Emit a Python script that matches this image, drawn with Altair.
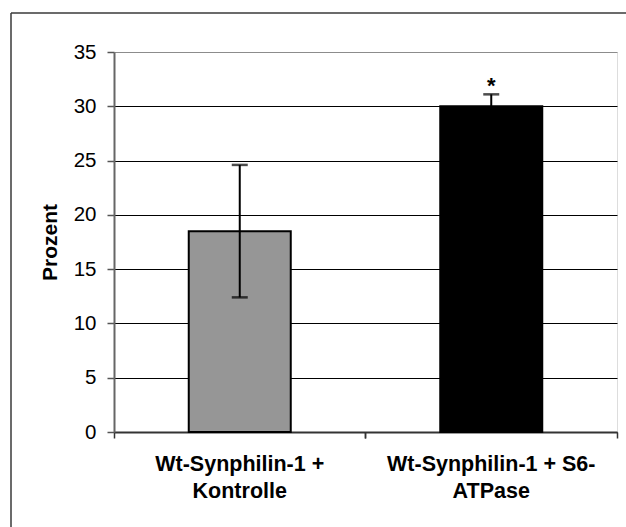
import altair as alt
import pandas as pd

categories = ["Wt-Synphilin-1 +\nKontrolle", "Wt-Synphilin-1 + S6-\nATPase"]
values = [18.5, 30.0]
errors = [6.1, 1.1]
marks = ["", "*"]
colors = ["#969696", "#000000"]

df = pd.DataFrame({
    "cat": categories,
    "val": values,
    "lo": [v - e for v, e in zip(values, errors)],
    "hi": [v + e for v, e in zip(values, errors)],
    "sig": marks,
    "color": colors,
})

FONT = "Liberation Sans"

x_main = alt.X(
    "cat:N",
    sort=categories,
    scale=alt.Scale(paddingInner=0, paddingOuter=0),
    axis=alt.Axis(
        title=None,
        labelAngle=0,
        labelExpr="split(datum.label, '\\n')",
        labelFont=FONT,
        labelFontSize=21.5,
        labelFontWeight="bold",
        labelColor="black",
        labelLineHeight=27,
        labelPadding=15,
        labelLimit=400,
        bandPosition=0,
        tickSize=6,
        tickColor="#333333",
        tickWidth=1.5,
        domainColor="#333333",
        domainWidth=2,
        grid=False,
    ),
)

x_plain = alt.X("cat:N", sort=categories, axis=None)

y_enc = alt.Y(
    "val:Q",
    scale=alt.Scale(domain=[0, 35], nice=False),
    axis=alt.Axis(
        title="Prozent",
        titleFont=FONT,
        titleFontSize=21,
        titleFontWeight="bold",
        titleColor="black",
        titleX=-64,
        titleY=190,
        titleAlign="center",
        titleBaseline="middle",
        titleAngle=270,
        values=[0, 5, 10, 15, 20, 25, 30, 35],
        labelFont=FONT,
        labelFontSize=20.5,
        labelColor="black",
        labelPadding=11,
        tickSize=7,
        tickColor="#555555",
        tickWidth=1.5,
        domainColor="#666666",
        domainWidth=2,
        grid=True,
        gridColor=alt.condition("datum.value == 35", alt.value("#8c8c8c"), alt.value("#000000")),
        gridWidth=1,
    ),
)

base = alt.Chart(df)

bars = base.mark_bar(size=102, stroke="black", strokeWidth=2).encode(
    x=x_main,
    y=y_enc,
    color=alt.Color("color:N", scale=None),
)

err = base.mark_rule(color="black", strokeWidth=2).encode(
    x=x_plain, y="lo:Q", y2="hi:Q"
)
cap_hi = base.mark_tick(color="black", size=16, thickness=2.5).encode(
    x=x_plain, y="hi:Q"
)
cap_lo = base.mark_tick(color="black", size=16, thickness=2.5).encode(
    x=x_plain, y="lo:Q"
)

sig = base.mark_text(font=FONT, fontSize=22, fontWeight="bold", dy=4, baseline="bottom").encode(
    x=x_plain, y="hi:Q", text="sig:N"
)

right_ticks = base.mark_tick(opacity=0).encode(
    x=alt.X(
        "cat:N",
        sort=categories,
        axis=alt.Axis(
            title=None,
            labels=False,
            domain=False,
            bandPosition=1,
            tickSize=6,
            tickColor="#333333",
            tickWidth=1.5,
            grid=False,
            orient="bottom",
        ),
    ),
    y="val:Q",
)

border_df = pd.DataFrame({"k": [0]})
top_border = alt.Chart(border_df).mark_rule(color="#3a3a3a", strokeWidth=1.5).encode(
    x=alt.value(-103), x2=alt.value(530), y=alt.value(-39)
)
left_border = alt.Chart(border_df).mark_rule(color="#3a3a3a", strokeWidth=1.5).encode(
    x=alt.value(-103), y=alt.value(-39), y2=alt.value(500)
)

chart = alt.layer(
    bars, err, cap_hi, cap_lo, sig, right_ticks, top_border, left_border
).resolve_axis(x="independent").properties(
    width=503,
    height=380,
    autosize=alt.AutoSizeParams(type="none"),
    padding={"left": 114, "top": 52, "right": 9, "bottom": 95},
).configure_view(
    stroke="#8c8c8c", strokeWidth=2.5
).configure(background="white")

chart.save("out.html", embed_options={"renderer": "svg", "actions": False})
